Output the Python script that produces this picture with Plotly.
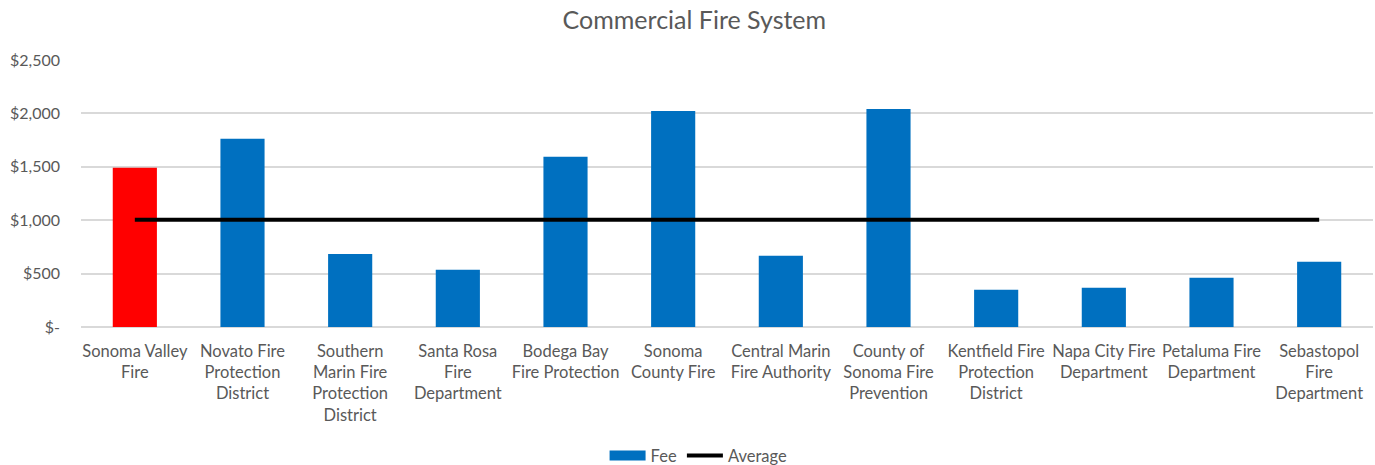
import plotly.graph_objects as go

categories = [
    "Sonoma Valley<br>Fire",
    "Novato Fire<br>Protection<br>District",
    "Southern<br>Marin Fire<br>Protection<br>District",
    "Santa Rosa<br>Fire<br>Department",
    "Bodega Bay<br>Fire Protection",
    "Sonoma<br>County Fire",
    "Central Marin<br>Fire Authority",
    "County of<br>Sonoma Fire<br>Prevention",
    "Kentfield Fire<br>Protection<br>District",
    "Napa City Fire<br>Department",
    "Petaluma Fire<br>Department",
    "Sebastopol<br>Fire<br>Department",
]
fees = [1490, 1763, 683, 536, 1594, 2022, 667, 2041, 349, 368, 461, 611]
average = [1005] * 12
y_ticks = [0, 500, 1000, 1500, 2000, 2500]
y_tick_labels = ["$-", "$500", "$1,000", "$1,500", "$2,000", "$2,500"]

blue = "#0070C0"
bar_colors = ["#FF0000"] + [blue] * (len(categories) - 1)
font_family = "Lato, 'Open Sans', sans-serif"
text_color = "#595959"

fig = go.Figure()
fig.add_trace(go.Bar(
    x=categories, y=fees, name="Fee", showlegend=False,
    marker=dict(color=bar_colors, line=dict(width=0)),
))
# legend entry for the fee bars (wide blue swatch like the original)
fig.add_trace(go.Scatter(
    x=[None], y=[None], name="Fee", mode="lines",
    line=dict(color=blue, width=13), hoverinfo="skip",
))
fig.add_trace(go.Scatter(
    x=categories, y=average, name="Average", mode="lines",
    line=dict(color="black", width=4),
))

fig.update_layout(
    width=1375, height=465,
    margin=dict(l=81, r=2, t=60, b=138, autoexpand=False),
    paper_bgcolor="white", plot_bgcolor="white",
    title=dict(text="Commercial Fire System", x=0.505, xanchor="center",
               y=0.957, yanchor="middle",
               font=dict(family=font_family, size=25, color=text_color)),
    font=dict(family=font_family, size=16, color=text_color),
    bargap=0.59,
    barmode="overlay",
    showlegend=True,
    legend=dict(orientation="h", x=0.478, xanchor="center",
                yref="container", y=0.02, yanchor="middle",
                font=dict(family=font_family, size=16.5, color=text_color),
                itemwidth=36, tracegroupgap=0),
    xaxis=dict(showgrid=False, showline=False, ticks="", tickangle=0,
               automargin=False, ticklabelstandoff=12,
               tickfont=dict(family=font_family, size=16.5, color=text_color)),
    yaxis=dict(range=[0, 2500], tickvals=y_ticks, ticktext=y_tick_labels,
               showgrid=True, gridcolor="#D9D9D9", gridwidth=1.5,
               zeroline=True, zerolinecolor="#D9D9D9", zerolinewidth=1.5,
               showline=False, ticks="", ticklabelstandoff=20, automargin=False,
               tickfont=dict(family=font_family, size=16, color=text_color)),
)

fig.write_html("out.html")
